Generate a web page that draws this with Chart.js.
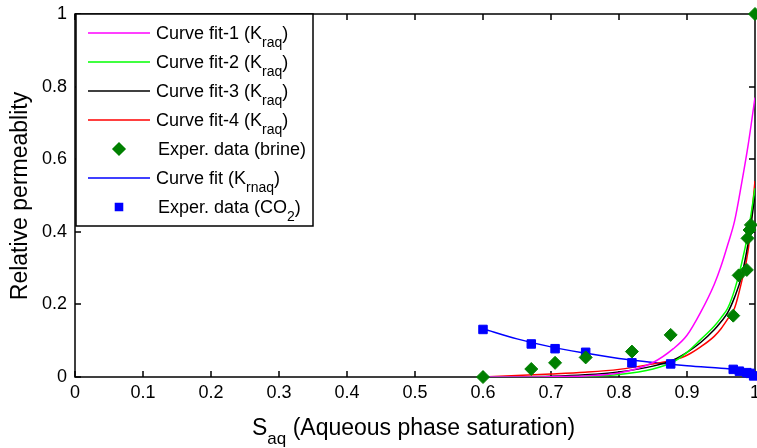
<!DOCTYPE html>
<html>
<head>
<meta charset="utf-8">
<script src="https://cdn.jsdelivr.net/npm/chart.js@4.4.0/dist/chart.umd.min.js"></script>
<style>
  html, body { margin: 0; padding: 0; background: #fff; }
  #wrap { width: 757px; height: 448px; }
</style>
</head>
<body>
<div id="wrap"><canvas id="chart" width="757" height="448"></canvas></div>
<script>
// Ejes
const xTicks = [0, 0.1, 0.2, 0.3, 0.4, 0.5, 0.6, 0.7, 0.8, 0.9, 1];
const xTickLabels = ['0', '0.1', '0.2', '0.3', '0.4', '0.5', '0.6', '0.7', '0.8', '0.9', '1'];
const yTicks = [0, 0.2, 0.4, 0.6, 0.8, 1];
const yTickLabels = ['0', '0.2', '0.4', '0.6', '0.8', '1'];

// Curvas de ajuste Kraq
const sFit = [0.6, 0.65, 0.7, 0.75, 0.8, 0.85, 0.88, 0.9, 0.92, 0.94, 0.95, 0.96, 0.97, 0.98, 0.99, 1.0];
const krFit1 = [0, 0, 0.001, 0.003, 0.011, 0.04, 0.078, 0.115, 0.178, 0.255, 0.305, 0.365, 0.43, 0.53, 0.64, 0.77];
const krFit2 = [0, 0, 0.0003, 0.002, 0.007, 0.022, 0.042, 0.068, 0.103, 0.14, 0.163, 0.19, 0.24, 0.31, 0.40, 0.52];
const krFit3 = [0, 0.0005, 0.002, 0.006, 0.014, 0.03, 0.047, 0.068, 0.095, 0.13, 0.152, 0.178, 0.22, 0.276, 0.37, 0.5];
const krFit4 = [0, 0.004, 0.008, 0.013, 0.021, 0.036, 0.047, 0.06, 0.083, 0.112, 0.133, 0.16, 0.19, 0.26, 0.35, 0.54];

// Curva de ajuste Krnaq
const sKrnaqFit = [0.6, 0.65, 0.7, 0.75, 0.8, 0.85, 0.9, 0.95, 0.97, 0.98, 0.99, 1.0];
const krnaqFit = [0.133, 0.105, 0.083, 0.066, 0.051, 0.04, 0.031, 0.024, 0.021, 0.017, 0.011, 0.002];

// Datos experimentales
const sBrine = [0.6, 0.671, 0.706, 0.751, 0.819, 0.876, 0.968, 0.976, 0.988, 0.989, 0.992, 0.994, 1.0];
const krBrine = [0, 0.022, 0.039, 0.054, 0.07, 0.116, 0.169, 0.28, 0.295, 0.382, 0.405, 0.419, 1.0];
const sCo2 = [0.6, 0.671, 0.706, 0.751, 0.819, 0.876, 0.968, 0.977, 0.988, 0.993, 0.998];
const krCo2 = [0.131, 0.091, 0.078, 0.068, 0.039, 0.036, 0.021, 0.016, 0.012, 0.010, 0.003];

const FONT = '"Liberation Sans", Arial, sans-serif';

function pts(xs, ys) {
    return xs.map((x, i) => ({ x: x, y: ys[i] }));
}

function fitLine(parts, color, xs, ys) {
    return {
        legendParts: parts,
        data: pts(xs, ys),
        showLine: true,
        borderColor: color,
        borderWidth: 1.5,
        pointRadius: 0,
        cubicInterpolationMode: 'monotone',
        order: 1
    };
}

function drawParts(ctx, x, y, parts, size, subSize, subDrop) {
    ctx.textAlign = 'left';
    ctx.textBaseline = 'alphabetic';
    ctx.font = size + 'px ' + FONT;
    ctx.fillText(parts[0], x, y);
    x += ctx.measureText(parts[0]).width;
    if (parts[1]) {
        ctx.font = subSize + 'px ' + FONT;
        ctx.fillText(parts[1], x, y + subDrop);
        x += ctx.measureText(parts[1]).width;
        ctx.font = size + 'px ' + FONT;
        ctx.fillText(parts[2], x, y);
    }
}

function noEdgePadding(scale) {
    scale.paddingLeft = 0;
    scale.paddingRight = 0;
    scale.paddingTop = 0;
    scale.paddingBottom = 0;
}

// Marco con marcas hacia dentro (estilo MATLAB) y etiquetas del eje x
const framePlugin = {
    id: 'frame',
    beforeDatasetsDraw(chart) {
        const { ctx, chartArea: a, scales: { x, y } } = chart;
        ctx.save();
        ctx.strokeStyle = '#000';
        ctx.lineWidth = 1.5;
        ctx.strokeRect(a.left, a.top, a.right - a.left, a.bottom - a.top);
        ctx.beginPath();
        xTicks.forEach(v => {
            const px = Math.round(x.getPixelForValue(v));
            ctx.moveTo(px, a.bottom); ctx.lineTo(px, a.bottom - 6);
            ctx.moveTo(px, a.top); ctx.lineTo(px, a.top + 6);
        });
        yTicks.forEach(v => {
            const py = Math.round(y.getPixelForValue(v));
            ctx.moveTo(a.left, py); ctx.lineTo(a.left + 6, py);
            ctx.moveTo(a.right, py); ctx.lineTo(a.right - 6, py);
        });
        ctx.stroke();

        ctx.fillStyle = '#000';
        ctx.font = '18px ' + FONT;
        ctx.textAlign = 'center';
        ctx.textBaseline = 'middle';
        xTicks.forEach((v, i) => {
            ctx.fillText(xTickLabels[i], x.getPixelForValue(v), a.bottom + 16);
        });
        ctx.restore();
    }
};

// Titulos de ejes con subindices
const titlesPlugin = {
    id: 'titles',
    afterDraw(chart) {
        const ctx = chart.ctx;
        ctx.save();
        ctx.fillStyle = '#000';
        drawParts(ctx, 252, 435, ['S', 'aq', ' (Aqueous phase saturation)'], 23, 17, 9);
        ctx.translate(27, 196);
        ctx.rotate(-Math.PI / 2);
        ctx.font = '23px ' + FONT;
        ctx.textAlign = 'center';
        ctx.textBaseline = 'alphabetic';
        ctx.fillText('Relative permeablity', 0, 0);
        ctx.restore();
    }
};

// Leyenda con subindices
const legendPlugin = {
    id: 'subLegend',
    afterDraw(chart) {
        const ctx = chart.ctx;
        ctx.save();
        ctx.fillStyle = '#fff';
        ctx.fillRect(76, 14, 237, 212);
        ctx.strokeStyle = '#000';
        ctx.lineWidth = 1.5;
        ctx.strokeRect(76, 14, 237, 212);
        chart.data.datasets.forEach((ds, i) => {
            const ry = 33 + i * 29;
            if (ds.showLine) {
                ctx.strokeStyle = ds.borderColor;
                ctx.lineWidth = 1.5;
                ctx.beginPath();
                ctx.moveTo(88, ry);
                ctx.lineTo(150, ry);
                ctx.stroke();
            } else {
                ctx.fillStyle = ds.backgroundColor;
                ctx.strokeStyle = ds.borderColor;
                Chart.helpers.drawPoint(ctx, {
                    pointStyle: ds.pointStyle,
                    radius: ds.pointStyle === 'rect' ? 5 : 6,
                    rotation: 0,
                    borderWidth: 1
                }, 119, ry);
            }
            ctx.fillStyle = '#000';
            drawParts(ctx, ds.showLine ? 156 : 158, ry + 6, ds.legendParts, 18, 14, 8);
        });
        ctx.restore();
    }
};

new Chart(document.getElementById('chart'), {
    type: 'scatter',
    data: {
        datasets: [
            fitLine(['Curve fit-1 (K', 'raq', ')'], '#ff00ff', sFit, krFit1),
            fitLine(['Curve fit-2 (K', 'raq', ')'], '#00ff00', sFit, krFit2),
            fitLine(['Curve fit-3 (K', 'raq', ')'], '#000000', sFit, krFit3),
            fitLine(['Curve fit-4 (K', 'raq', ')'], '#ff0000', sFit, krFit4),
            {
                legendParts: ['Exper. data (brine)'],
                data: pts(sBrine, krBrine),
                showLine: false,
                pointStyle: 'rectRot',
                pointRadius: 6.5,
                backgroundColor: '#008000',
                borderColor: '#008000',
                borderWidth: 1,
                clip: false,
                order: 0
            },
            fitLine(['Curve fit (K', 'rnaq', ')'], '#0000ff', sKrnaqFit, krnaqFit),
            {
                legendParts: ['Exper. data (CO', '2', ')'],
                data: pts(sCo2, krCo2),
                showLine: false,
                pointStyle: 'rect',
                pointRadius: 6,
                backgroundColor: '#0000ff',
                borderColor: '#0000ff',
                borderWidth: 1,
                clip: false,
                order: 0
            }
        ]
    },
    options: {
        responsive: false,
        animation: false,
        layout: { autoPadding: false, padding: { top: 14, right: 2, left: 0, bottom: 0 } },
        plugins: {
            legend: { display: false },
            tooltip: { enabled: false }
        },
        scales: {
            x: {
                type: 'linear',
                min: 0,
                max: 1,
                afterBuildTicks: scale => { scale.ticks = xTicks.map(v => ({ value: v })); },
                afterFit: scale => { scale.height = 71; noEdgePadding(scale); },
                grid: { display: false, drawTicks: false },
                border: { display: false },
                ticks: { display: false }
            },
            y: {
                type: 'linear',
                min: 0,
                max: 1,
                afterBuildTicks: scale => { scale.ticks = yTicks.map(v => ({ value: v })); },
                afterFit: scale => { scale.width = 75; noEdgePadding(scale); },
                grid: { display: false, drawTicks: false },
                border: { display: false },
                ticks: {
                    color: '#000',
                    font: { family: FONT, size: 18 },
                    padding: 8,
                    autoSkip: false,
                    callback: (v, i) => yTickLabels[i]
                }
            }
        }
    },
    plugins: [framePlugin, titlesPlugin, legendPlugin]
});
</script>
</body>
</html>
